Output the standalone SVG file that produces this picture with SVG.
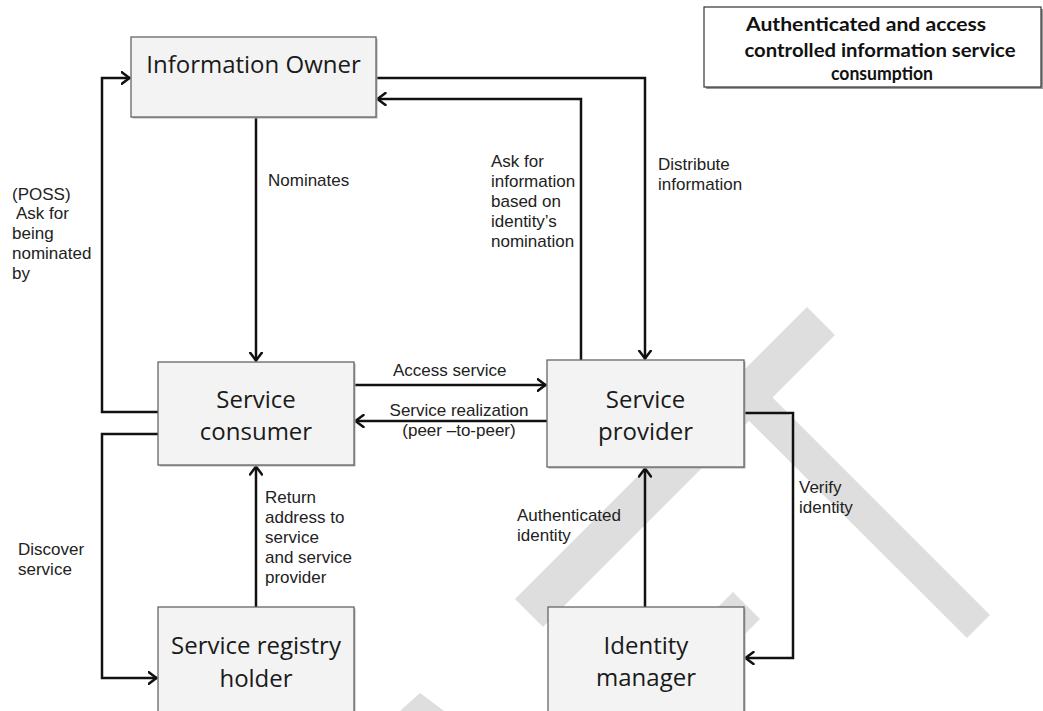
<svg xmlns="http://www.w3.org/2000/svg" width="1043" height="711" viewBox="0 0 1043 711">
<defs>
<marker id="arr" viewBox="0 0 10 14" refX="9.5" refY="7" markerWidth="10" markerHeight="14" markerUnits="userSpaceOnUse" orient="auto">
<path d="M1,1 L9,7 L1,13" fill="none" stroke="#111" stroke-width="2.5" stroke-linecap="round" stroke-linejoin="round"/>
</marker>
<style>
.wm{fill:#dedede}
.box{fill:#f3f3f3;stroke:#666;stroke-width:1.3}
.shadow{fill:#b0b0b0}
.bl{font-family:"Open Sans","Noto Sans",sans-serif;font-size:24px;fill:#1a1a1a;text-anchor:middle}
.lb{font-family:"Liberation Sans",Arial,sans-serif;font-size:17px;fill:#222}
.ln{fill:none;stroke:#111;stroke-width:2.5;stroke-linejoin:miter}
.ttl{font-family:Lato,"Open Sans",sans-serif;font-weight:bold;font-size:18px;fill:#111;text-anchor:middle}
</style>
</defs>
<rect width="1043" height="711" fill="#fff"/>
<g id="watermark">
<polygon class="wm" points="807,307 835,335 543,627 515,599"/>
<polygon class="wm" points="742,367 990,615 967,638 718.5,390.5"/>
<polygon class="wm" points="733,592 760,619 668,711 614,711"/>
<polygon class="wm" points="420,693 444,711 400,711"/>
</g>
<g id="connectors">
<path class="ln" d="M158,412 H102 V78 H130" marker-end="url(#arr)"/>
<path class="ln" d="M256,117 V361" marker-end="url(#arr)"/>
<path class="ln" d="M376,78 H645 V359" marker-end="url(#arr)"/>
<path class="ln" d="M581,360 V99 H377" marker-end="url(#arr)"/>
<path class="ln" d="M354,385 H546" marker-end="url(#arr)"/>
<path class="ln" d="M547,421 H355" marker-end="url(#arr)"/>
<path class="ln" d="M158,434 H102 V678 H157" marker-end="url(#arr)"/>
<path class="ln" d="M256,607 V466" marker-end="url(#arr)"/>
<path class="ln" d="M645,607 V468" marker-end="url(#arr)"/>
<path class="ln" d="M744,413 H793 V658 H745" marker-end="url(#arr)"/>
<text class="lb" x="12" y="200">(POSS)</text>
<text class="lb" x="16" y="219">Ask for</text>
<text class="lb" x="12" y="239">being</text>
<text class="lb" x="12" y="259">nominated</text>
<text class="lb" x="12" y="279">by</text>
<text class="lb" x="268" y="186">Nominates</text>
<text class="lb" x="491" y="167">Ask for</text>
<text class="lb" x="491" y="187">information</text>
<text class="lb" x="491" y="207">based on</text>
<text class="lb" x="491" y="227">identity’s</text>
<text class="lb" x="491" y="247">nomination</text>
<text class="lb" x="658" y="170">Distribute</text>
<text class="lb" x="658" y="190">information</text>
<text class="lb" x="393" y="376">Access service</text>
<text class="lb" x="459" y="416" text-anchor="middle">Service realization</text>
<text class="lb" x="459" y="436" text-anchor="middle">(peer –to-peer)</text>
<text class="lb" x="265" y="503">Return</text>
<text class="lb" x="265" y="523">address to</text>
<text class="lb" x="265" y="543">service</text>
<text class="lb" x="265" y="563">and service</text>
<text class="lb" x="265" y="583">provider</text>
<text class="lb" x="18" y="555">Discover</text>
<text class="lb" x="18" y="575">service</text>
<text class="lb" x="517" y="521">Authenticated</text>
<text class="lb" x="517" y="541">identity</text>
<text class="lb" x="799" y="493">Verify</text>
<text class="lb" x="799" y="513">identity</text>
</g>
<g id="information-owner">
<rect class="shadow" x="132.5" y="38.5" width="245" height="80"/>
<rect class="box" x="131" y="37" width="245" height="80"/>
<text class="bl" x="253.5" y="73">Information Owner</text>
</g>
<g id="service-consumer">
<rect class="shadow" x="159.5" y="363.5" width="196" height="103"/>
<rect class="box" x="158" y="362" width="196" height="103"/>
<text class="bl" x="256" y="408">Service</text>
<text class="bl" x="256" y="440">consumer</text>
</g>
<g id="service-provider">
<rect class="shadow" x="548.5" y="361.5" width="197" height="107"/>
<rect class="box" x="547" y="360" width="197" height="107"/>
<text class="bl" x="645.5" y="408">Service</text>
<text class="bl" x="645.5" y="440">provider</text>
</g>
<g id="service-registry-holder">
<rect class="shadow" x="159.5" y="608.5" width="196" height="110"/>
<rect class="box" x="158" y="607" width="196" height="110"/>
<text class="bl" x="256" y="654">Service registry</text>
<text class="bl" x="256" y="687">holder</text>
</g>
<g id="identity-manager">
<rect class="shadow" x="549.5" y="608.5" width="196" height="110"/>
<rect class="box" x="548" y="607" width="196" height="110"/>
<text class="bl" x="646" y="654">Identity</text>
<text class="bl" x="646" y="686">manager</text>
</g>
<g id="title">
<rect x="706" y="9" width="337" height="80" fill="#999"/>
<rect x="704" y="7" width="337" height="80" fill="#fff" stroke="#333" stroke-width="1.2"/>
<text class="ttl" x="866" y="31" textLength="240" lengthAdjust="spacingAndGlyphs">Authenticated and access</text>
<text class="ttl" x="880" y="57" textLength="271" lengthAdjust="spacingAndGlyphs">controlled information service</text>
<text class="ttl" x="882" y="80" textLength="102" lengthAdjust="spacingAndGlyphs">consumption</text>
</g>
</svg>
